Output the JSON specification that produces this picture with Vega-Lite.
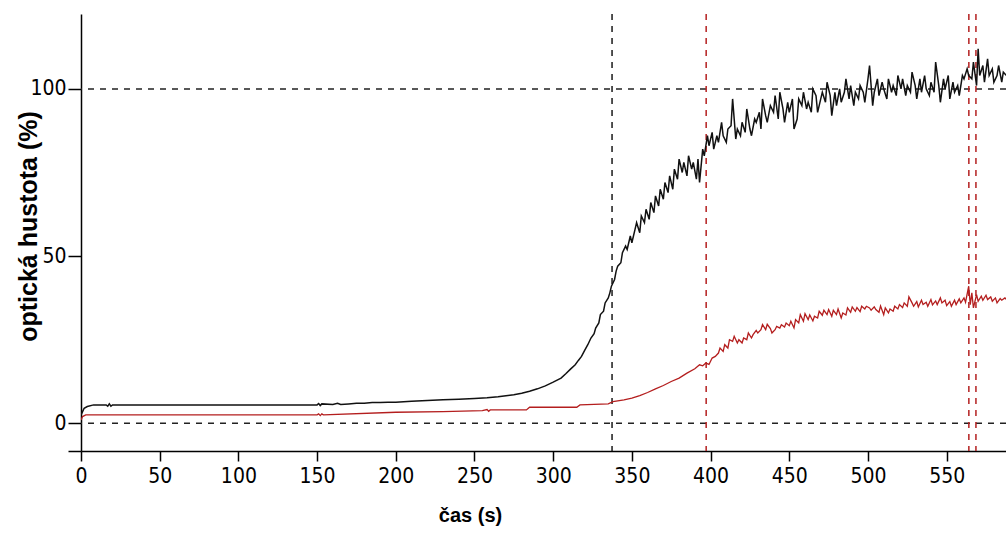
{
  "$schema": "https://vega.github.io/schema/vega-lite/v6.json",
  "width": 925,
  "height": 437,
  "autosize": {"type": "none"},
  "padding": {"left": 81, "top": 14, "right": 0, "bottom": 107},
  "background": "white",
  "config": {
    "view": {"stroke": null},
    "axis": {
      "domainColor": "#000",
      "domainWidth": 1.5,
      "tickColor": "#000",
      "tickWidth": 1.5,
      "labelColor": "#000",
      "labelFont": "DejaVu Sans Condensed, Liberation Sans, sans-serif",
      "labelFontSize": 21,
      "labelFlush": false,
      "labelOverlap": false,
      "grid": false,
      "titleColor": "#000",
      "titleFontWeight": "bold"
    }
  },
  "datasets": {
    "cerna": [
      {"t": 0, "v": 2.5}, {"t": 1, "v": 3.5}, {"t": 2, "v": 4.5}, {"t": 4, "v": 5.0}, {"t": 8, "v": 5.5},
      {"t": 16, "v": 5.5}, {"t": 17, "v": 5.1}, {"t": 18, "v": 5.8}, {"t": 19, "v": 5.1}, {"t": 20, "v": 5.5},
      {"t": 150, "v": 5.5}, {"t": 151, "v": 5.9}, {"t": 152, "v": 5.3}, {"t": 153, "v": 5.8}, {"t": 160, "v": 5.6},
      {"t": 163, "v": 6.0}, {"t": 165, "v": 5.6}, {"t": 170, "v": 5.8}, {"t": 175, "v": 6.0}, {"t": 180, "v": 6.0},
      {"t": 185, "v": 6.2}, {"t": 190, "v": 6.2}, {"t": 195, "v": 6.3}, {"t": 200, "v": 6.3}, {"t": 210, "v": 6.6},
      {"t": 220, "v": 6.8}, {"t": 230, "v": 7.0}, {"t": 240, "v": 7.2}, {"t": 250, "v": 7.4}, {"t": 258, "v": 7.6},
      {"t": 265, "v": 7.9}, {"t": 270, "v": 8.2}, {"t": 275, "v": 8.5}, {"t": 280, "v": 9.0}, {"t": 285, "v": 9.6},
      {"t": 290, "v": 10.3}, {"t": 295, "v": 11.2}, {"t": 300, "v": 12.3}, {"t": 305, "v": 13.5}, {"t": 308, "v": 14.8},
      {"t": 311, "v": 16.2}, {"t": 314, "v": 17.5}, {"t": 316, "v": 18.8}, {"t": 318, "v": 20.0}, {"t": 320, "v": 21.8},
      {"t": 322, "v": 23.5}, {"t": 324, "v": 25.5}, {"t": 326, "v": 26.8}, {"t": 327, "v": 28.5}, {"t": 329, "v": 30.0},
      {"t": 330, "v": 32.5}, {"t": 332, "v": 33.5}, {"t": 333, "v": 36}, {"t": 335, "v": 37.5}, {"t": 336, "v": 39},
      {"t": 337, "v": 41}, {"t": 339, "v": 43}, {"t": 340, "v": 45.5}, {"t": 341, "v": 47}, {"t": 343, "v": 48},
      {"t": 344, "v": 51}, {"t": 346, "v": 53}, {"t": 347, "v": 52}, {"t": 349, "v": 56}, {"t": 350, "v": 54},
      {"t": 352, "v": 58}, {"t": 353, "v": 60}, {"t": 355, "v": 57}, {"t": 356, "v": 62}, {"t": 358, "v": 60},
      {"t": 359, "v": 64}, {"t": 361, "v": 61}, {"t": 362, "v": 66}, {"t": 364, "v": 63}, {"t": 365, "v": 68},
      {"t": 367, "v": 65}, {"t": 368, "v": 70}, {"t": 370, "v": 67}, {"t": 371, "v": 72}, {"t": 373, "v": 69},
      {"t": 374, "v": 74}, {"t": 376, "v": 70}, {"t": 377, "v": 76}, {"t": 379, "v": 73}, {"t": 380, "v": 79},
      {"t": 382, "v": 75}, {"t": 383, "v": 78}, {"t": 385, "v": 74}, {"t": 386, "v": 80}, {"t": 388, "v": 76},
      {"t": 389, "v": 78}, {"t": 391, "v": 73}, {"t": 392, "v": 79}, {"t": 393, "v": 72}, {"t": 395, "v": 82},
      {"t": 396, "v": 80}, {"t": 398, "v": 86}, {"t": 399, "v": 83}, {"t": 401, "v": 87}, {"t": 402, "v": 82},
      {"t": 404, "v": 86}, {"t": 405, "v": 84}, {"t": 407, "v": 90}, {"t": 408, "v": 86}, {"t": 410, "v": 84},
      {"t": 411, "v": 88}, {"t": 413, "v": 89}, {"t": 414, "v": 97}, {"t": 416, "v": 85}, {"t": 417, "v": 88},
      {"t": 419, "v": 86}, {"t": 420, "v": 90}, {"t": 422, "v": 87}, {"t": 423, "v": 94}, {"t": 425, "v": 88},
      {"t": 426, "v": 86}, {"t": 428, "v": 91}, {"t": 429, "v": 90}, {"t": 431, "v": 93}, {"t": 432, "v": 88},
      {"t": 433, "v": 97}, {"t": 435, "v": 92}, {"t": 436, "v": 90}, {"t": 438, "v": 95}, {"t": 440, "v": 93},
      {"t": 441, "v": 98}, {"t": 443, "v": 91}, {"t": 444, "v": 99}, {"t": 446, "v": 94}, {"t": 447, "v": 90},
      {"t": 449, "v": 96}, {"t": 450, "v": 93}, {"t": 452, "v": 97}, {"t": 453, "v": 88}, {"t": 455, "v": 91},
      {"t": 456, "v": 97}, {"t": 458, "v": 95}, {"t": 459, "v": 99}, {"t": 461, "v": 94}, {"t": 462, "v": 96},
      {"t": 464, "v": 93}, {"t": 465, "v": 100}, {"t": 467, "v": 98}, {"t": 468, "v": 93}, {"t": 470, "v": 97},
      {"t": 471, "v": 99}, {"t": 473, "v": 96}, {"t": 474, "v": 102}, {"t": 476, "v": 98}, {"t": 477, "v": 92},
      {"t": 479, "v": 99}, {"t": 480, "v": 95}, {"t": 482, "v": 100}, {"t": 483, "v": 96}, {"t": 485, "v": 99},
      {"t": 486, "v": 103}, {"t": 488, "v": 97}, {"t": 489, "v": 101}, {"t": 491, "v": 95}, {"t": 492, "v": 99},
      {"t": 494, "v": 97}, {"t": 495, "v": 101}, {"t": 497, "v": 99}, {"t": 498, "v": 96}, {"t": 500, "v": 103},
      {"t": 501, "v": 107}, {"t": 503, "v": 95}, {"t": 504, "v": 99}, {"t": 506, "v": 103}, {"t": 507, "v": 98},
      {"t": 509, "v": 102}, {"t": 510, "v": 100}, {"t": 512, "v": 97}, {"t": 513, "v": 103}, {"t": 515, "v": 99},
      {"t": 516, "v": 101}, {"t": 518, "v": 98}, {"t": 519, "v": 104}, {"t": 521, "v": 100}, {"t": 522, "v": 103},
      {"t": 524, "v": 98}, {"t": 525, "v": 101}, {"t": 527, "v": 99}, {"t": 528, "v": 105}, {"t": 530, "v": 101},
      {"t": 531, "v": 97}, {"t": 533, "v": 103}, {"t": 534, "v": 99}, {"t": 536, "v": 104}, {"t": 537, "v": 100},
      {"t": 539, "v": 98}, {"t": 540, "v": 102}, {"t": 542, "v": 99}, {"t": 543, "v": 108}, {"t": 545, "v": 101},
      {"t": 546, "v": 96}, {"t": 548, "v": 103}, {"t": 549, "v": 100}, {"t": 551, "v": 104}, {"t": 552, "v": 97},
      {"t": 554, "v": 102}, {"t": 555, "v": 99}, {"t": 557, "v": 101}, {"t": 558, "v": 98}, {"t": 560, "v": 104},
      {"t": 561, "v": 103}, {"t": 563, "v": 106}, {"t": 564, "v": 104}, {"t": 566, "v": 103}, {"t": 567, "v": 108},
      {"t": 569, "v": 101}, {"t": 570, "v": 112}, {"t": 571, "v": 104}, {"t": 573, "v": 107}, {"t": 574, "v": 102},
      {"t": 576, "v": 109}, {"t": 577, "v": 104}, {"t": 579, "v": 106}, {"t": 580, "v": 102}, {"t": 582, "v": 104},
      {"t": 583, "v": 107}, {"t": 585, "v": 102}, {"t": 586, "v": 105}, {"t": 588, "v": 104}
    ],
    "cervena": [
      {"t": 0, "v": 1.0}, {"t": 1, "v": 2.0}, {"t": 3, "v": 2.5}, {"t": 150, "v": 2.5}, {"t": 151, "v": 2.8},
      {"t": 152, "v": 2.3}, {"t": 153, "v": 2.8}, {"t": 154, "v": 2.5}, {"t": 200, "v": 3.3}, {"t": 230, "v": 3.5},
      {"t": 255, "v": 3.8}, {"t": 258, "v": 4.1}, {"t": 259, "v": 3.6}, {"t": 260, "v": 4.0}, {"t": 283, "v": 4.0},
      {"t": 285, "v": 4.8}, {"t": 315, "v": 4.8}, {"t": 317, "v": 5.5}, {"t": 335, "v": 5.8}, {"t": 338, "v": 6.5},
      {"t": 345, "v": 7.0}, {"t": 350, "v": 7.5}, {"t": 355, "v": 8.3}, {"t": 360, "v": 9.2}, {"t": 365, "v": 10.3},
      {"t": 370, "v": 11.3}, {"t": 375, "v": 12.5}, {"t": 380, "v": 13.5}, {"t": 385, "v": 15}, {"t": 390, "v": 16.3},
      {"t": 393, "v": 17.5}, {"t": 395, "v": 17.2}, {"t": 397, "v": 18.0}, {"t": 399, "v": 17.6}, {"t": 401, "v": 19.5},
      {"t": 403, "v": 20}, {"t": 405, "v": 21}, {"t": 406, "v": 22.5}, {"t": 408, "v": 21.5}, {"t": 409, "v": 23.5},
      {"t": 411, "v": 22.5}, {"t": 412, "v": 25}, {"t": 414, "v": 24.5}, {"t": 415, "v": 26}, {"t": 417, "v": 24},
      {"t": 418, "v": 25}, {"t": 420, "v": 24}, {"t": 421, "v": 25.5}, {"t": 423, "v": 25}, {"t": 424, "v": 27},
      {"t": 426, "v": 25.5}, {"t": 427, "v": 26.5}, {"t": 429, "v": 27.8}, {"t": 430, "v": 27}, {"t": 432, "v": 28},
      {"t": 433, "v": 29.5}, {"t": 435, "v": 28}, {"t": 436, "v": 29.6}, {"t": 438, "v": 28.3}, {"t": 439, "v": 27},
      {"t": 441, "v": 28}, {"t": 442, "v": 29}, {"t": 444, "v": 28.5}, {"t": 445, "v": 29.5}, {"t": 447, "v": 28.8},
      {"t": 448, "v": 30}, {"t": 450, "v": 29.2}, {"t": 451, "v": 30.5}, {"t": 453, "v": 28.5}, {"t": 454, "v": 31},
      {"t": 456, "v": 30}, {"t": 457, "v": 32.5}, {"t": 459, "v": 30.5}, {"t": 460, "v": 32.8}, {"t": 462, "v": 31},
      {"t": 463, "v": 32.4}, {"t": 465, "v": 30.6}, {"t": 466, "v": 32}, {"t": 468, "v": 31.5}, {"t": 469, "v": 33.5},
      {"t": 471, "v": 32.3}, {"t": 472, "v": 33.8}, {"t": 474, "v": 32.5}, {"t": 475, "v": 34}, {"t": 477, "v": 32},
      {"t": 478, "v": 33.8}, {"t": 480, "v": 32.5}, {"t": 481, "v": 34.2}, {"t": 483, "v": 31.5}, {"t": 484, "v": 33},
      {"t": 486, "v": 32.4}, {"t": 487, "v": 34.5}, {"t": 489, "v": 33.2}, {"t": 490, "v": 34.8}, {"t": 492, "v": 33.5},
      {"t": 493, "v": 34.6}, {"t": 495, "v": 33.4}, {"t": 496, "v": 35}, {"t": 498, "v": 34.2}, {"t": 499, "v": 35},
      {"t": 501, "v": 34.5}, {"t": 502, "v": 33.8}, {"t": 504, "v": 34.8}, {"t": 505, "v": 34}, {"t": 507, "v": 33.2},
      {"t": 508, "v": 35.1}, {"t": 510, "v": 32.5}, {"t": 511, "v": 34.5}, {"t": 513, "v": 33}, {"t": 514, "v": 34.2},
      {"t": 516, "v": 33.5}, {"t": 517, "v": 35}, {"t": 519, "v": 34.2}, {"t": 520, "v": 35.5}, {"t": 522, "v": 34.6},
      {"t": 523, "v": 36}, {"t": 525, "v": 35}, {"t": 526, "v": 37.8}, {"t": 528, "v": 36}, {"t": 529, "v": 35},
      {"t": 531, "v": 36.4}, {"t": 532, "v": 34.8}, {"t": 534, "v": 36.8}, {"t": 535, "v": 35.5}, {"t": 537, "v": 36.2},
      {"t": 538, "v": 35}, {"t": 540, "v": 37}, {"t": 541, "v": 35.4}, {"t": 543, "v": 36.6}, {"t": 544, "v": 35.5},
      {"t": 546, "v": 37.5}, {"t": 547, "v": 36}, {"t": 549, "v": 36.8}, {"t": 550, "v": 35.2}, {"t": 552, "v": 36.4},
      {"t": 553, "v": 35}, {"t": 555, "v": 36.8}, {"t": 556, "v": 35.5}, {"t": 558, "v": 37.2}, {"t": 559, "v": 36},
      {"t": 561, "v": 37.5}, {"t": 562, "v": 36.2}, {"t": 564, "v": 41}, {"t": 565, "v": 35.5}, {"t": 566, "v": 39},
      {"t": 567, "v": 34.5}, {"t": 569, "v": 38.5}, {"t": 570, "v": 36.5}, {"t": 572, "v": 38}, {"t": 573, "v": 36.8},
      {"t": 575, "v": 38.3}, {"t": 576, "v": 37}, {"t": 578, "v": 37.8}, {"t": 579, "v": 36.5}, {"t": 581, "v": 37.5},
      {"t": 582, "v": 36}, {"t": 584, "v": 37.3}, {"t": 585, "v": 36.8}, {"t": 587, "v": 37.5}, {"t": 588, "v": 37}
    ],
    "urovne": [{"v": 0}, {"v": 100}],
    "kurzory": [
      {"t": 337.4, "barva": "cerna"},
      {"t": 397.2, "barva": "cervena"},
      {"t": 564.1, "barva": "cervena"},
      {"t": 568.6, "barva": "cervena"}
    ]
  },
  "layer": [
    {
      "data": {"name": "urovne"},
      "mark": {"type": "rule", "color": "#222", "strokeWidth": 1.5, "strokeDash": [6, 6]},
      "encoding": {
        "y": {"field": "v", "type": "quantitative", "scale": {"domain": [-8.29, 122.4], "nice": false, "zero": false}}
      }
    },
    {
      "data": {"name": "kurzory"},
      "mark": {"type": "rule", "strokeWidth": 1.5, "strokeDash": [6, 6]},
      "encoding": {
        "x": {"field": "t", "type": "quantitative", "scale": {"domain": [0, 587.7], "nice": false, "zero": false}},
        "color": {
          "field": "barva",
          "type": "nominal",
          "scale": {"domain": ["cerna", "cervena"], "range": ["#1a1a1a", "#b42020"]},
          "legend": null
        }
      }
    },
    {
      "data": {"name": "cervena"},
      "mark": {"type": "line", "color": "#b41e1e", "strokeWidth": 1.3, "clip": true, "interpolate": "linear"},
      "encoding": {
        "x": {"field": "t", "type": "quantitative", "scale": {"domain": [0, 587.7], "nice": false, "zero": false}},
        "y": {"field": "v", "type": "quantitative", "scale": {"domain": [-8.29, 122.4], "nice": false, "zero": false}}
      }
    },
    {
      "data": {"name": "cerna"},
      "mark": {"type": "line", "color": "#111", "strokeWidth": 1.5, "clip": true, "interpolate": "linear"},
      "encoding": {
        "x": {
          "field": "t",
          "type": "quantitative",
          "scale": {"domain": [0, 587.7], "nice": false, "zero": false},
          "axis": {
            "values": [0, 50, 100, 150, 200, 250, 300, 350, 400, 450, 500, 550],
            "tickSize": 10,
            "labelPadding": 4,
            "title": "čas (s)",
            "titleFont": "Liberation Sans, Arial, sans-serif",
            "titleFontSize": 20,
            "titleAlign": "center",
            "titleBaseline": "middle",
            "titleX": 389,
            "titleY": 64
          }
        },
        "y": {
          "field": "v",
          "type": "quantitative",
          "scale": {"domain": [-8.29, 122.4], "nice": false, "zero": false},
          "axis": {
            "values": [-8.29, 0, 50, 100],
            "labelExpr": "datum.value < 0 ? '' : datum.label",
            "tickSize": 13,
            "labelPadding": 2,
            "title": "optická hustota (%)",
            "titleFont": "Liberation Sans, Arial, sans-serif",
            "titleFontSize": 25,
            "titleAngle": -90,
            "titleAlign": "center",
            "titleBaseline": "alphabetic",
            "titleX": -45,
            "titleY": 212
          }
        }
      }
    }
  ]
}
